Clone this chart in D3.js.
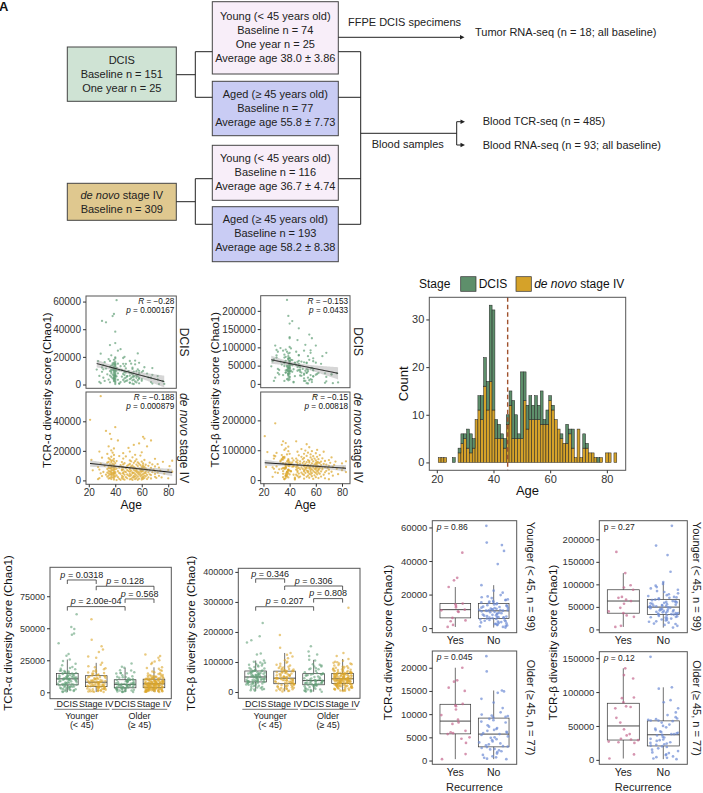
<!DOCTYPE html>
<html><head><meta charset="utf-8">
<script src="https://cdn.jsdelivr.net/npm/d3@7/dist/d3.min.js"></script>
<style>html,body{margin:0;padding:0;background:#fff;}svg{display:block}</style>
</head><body>
<svg id="fig" width="703" height="793" xmlns="http://www.w3.org/2000/svg"></svg>
<script>
// ======================= DATA =======================
// Flowchart text
const dcisBoxLines = ["DCIS", "Baseline n = 151", "One year n = 25"];
const denovoBoxLines = ["*de novo* stage IV", "Baseline n = 309"];
const youngDcisLines = ["Young (< 45 years old)", "Baseline n = 74", "One year n = 25", "Average age 38.0 ± 3.86"];
const agedDcisLines = ["Aged (≥ 45 years old)", "Baseline n = 77", "Average age 55.8 ± 7.73"];
const youngIVLines = ["Young (< 45 years old)", "Baseline n = 116", "Average age 36.7 ± 4.74"];
const agedIVLines = ["Aged (≥ 45 years old)", "Baseline n = 193", "Average age 58.2 ± 8.38"];
const ffpeLabel = "FFPE DCIS specimens";
const tumorLabel = "Tumor RNA-seq (n = 18; all baseline)";
const bloodLabel = "Blood samples";
const bloodTcrLabel = "Blood TCR-seq (n = 485)";
const bloodRnaLabel = "Blood RNA-seq (n = 93; all baseline)";

// Per-sample values: [age, TCR-alpha Chao1 (thousands), TCR-beta Chao1 (thousands)]
const dcisYoungYes = [
[33,45.0,98],[40,30.0,125],[36,28.5,72],[42,24.5,172],[31,11.0,88],[40,14.6,63],[38,14.2,36],[44,13.2,57],[30,12.3,93],
[39,10.6,40],[41,10.0,66],[37,9.6,31],[40,6.1,48],[39,4.6,28],[39,4.1,70],[28,1.9,8],[43,0.7,5.5]];
const dcisYoungNo = [
[41,61.0,97],[39,51.0,186],[38,49.5,230],[30,46.0,72],[40,38.2,165],[44,25.6,58],[29,22.3,105],[37,21.1,63],[40,19.7,128],
[35,18.4,91],[39,17.9,44],[36,17.1,80],[40,16.6,55],[32,16.2,38],[39,15.8,69],[40,15.5,101],[38,15.3,47],[27,16.9,62],
[40,18.9,85],[42,15.1,33],[39,14.8,76],[40,14.3,52],[31,14.1,41],[37,13.7,94],[40,13.5,60],[39,13.1,29],[36,12.8,57],
[40,12.6,70],[38,12.2,50],[41,12.1,36],[39,11.9,83],[40,11.6,45],[33,11.5,61],[39,11.2,22],[40,11.0,53],[37,10.9,74],
[26,10.8,48],[40,10.6,35],[39,10.5,66],[43,10.4,40],[38,10.7,88],[40,10.2,51],[39,10.0,27],[36,9.7,59],[40,9.5,42],
[30,9.2,78],[39,8.9,34],[40,8.7,56],[37,8.4,31],[42,8.1,65],[39,7.9,46],[40,7.6,20],[34,7.4,53],[38,7.1,39],[40,6.9,71],
[39,6.7,25],[36,6.5,49],[40,6.4,33],[28,6.2,67],[39,6.1,43],[41,5.9,54],[40,5.7,18],[37,5.5,37],[39,5.2,50],[31,4.9,30],
[40,4.7,62],[38,4.4,13],[39,4.1,36],[40,3.9,44],[35,3.6,24],[42,3.4,51],[39,3.1,15],[40,2.9,34],[32,2.6,26],[39,2.4,10],
[40,2.1,40],[44,1.8,21],[36,1.6,8],[40,1.3,28],[29,1.0,17],[43,0.7,4],[40,0.3,12]];
const dcisOldYes = [
[47,20.0,78],[55,17.3,135],[51,17.0,91],[58,15.7,62],[46,15.0,120],[53,12.2,30],[68,11.9,85],[48,11.7,45],[57,11.0,125],
[61,9.8,27],[47,8.8,79],[52,8.2,36],[64,7.9,55],[56,6.4,92],[72,6.1,26],[49,5.9,31],[54,5.7,76],[67,5.0,29],[58,4.7,38],
[60,3.8,25],[51,1.4,8],[73,0.3,2]];
const dcisOldNo = [
[57,22.5,44],[46,19.2,60],[52,15.1,107],[48,14.9,38],[55,14.6,66],[47,13.3,152],[62,12.5,30],[53,11.3,57],[45,10.4,88],
[58,9.9,21],[50,9.7,41],[56,9.6,13],[47,9.4,63],[54,9.3,34],[60,9.0,105],[48,8.7,50],[51,8.4,25],[58,8.2,70],[46,7.6,36],
[53,7.3,58],[68,7.0,19],[47,6.8,48],[56,6.6,85],[51,6.4,28],[54,6.2,39],[49,6.0,61],[57,5.9,11],[45,5.7,52],[53,5.5,31],
[65,5.2,76],[48,5.0,23],[56,4.9,42],[52,4.6,8],[47,4.4,55],[58,4.1,37],[51,3.9,59],[72,3.7,26],[54,3.5,17],[46,3.3,46],
[57,3.1,5],[53,3.0,40],[49,2.9,22],[60,2.7,58],[48,2.5,33],[76,2.4,29],[55,2.2,10],[47,2.0,38],[67,1.8,3],[56,1.5,24],
[51,1.2,15],[58,0.9,20],[68,0.7,7],[53,0.6,2],[77,0.4,4],[54,0.3,1]];
const ivYoung = [
[29,57.0,190],[21,41.0,147],[40,36.0,88],[33,33.5,62],[36,31.5,101],[37,28.0,45],[42,27.0,73],[35,23.0,130],[39,21.6,34],
[37,20.3,56],[28,19.5,82],[38,18.8,27],[34,17.9,118],[39,17.2,49],[43,16.5,66],[37,16.0,39],[30,15.4,91],[35,15.0,21],
[39,14.6,58],[36,14.2,74],[22,13.9,44],[38,13.6,12],[37,13.4,106],[41,13.1,53],[39,12.8,31],[35,12.5,69],[37,12.3,17],
[34,12.0,84],[40,11.7,47],[29,11.4,26],[38,11.1,63],[36,10.9,40],[39,10.6,97],[44,10.3,8],[37,10.1,51],[32,9.9,36],
[35,9.6,77],[39,9.4,23],[40,9.2,60],[27,9.0,43],[37,8.9,14],[38,8.7,86],[43,8.6,46],[35,8.4,30],[39,8.3,65],[36,8.1,3],
[41,8.0,55],[37,7.9,124],[34,7.7,38],[40,7.5,19],[28,7.3,72],[39,7.1,48],[38,6.9,28],[23,6.8,94],[37,6.6,42],[35,6.4,10],
[42,6.2,59],[39,6.0,35],[36,5.9,78],[31,5.7,24],[40,5.6,52],[37,5.4,7],[34,5.3,68],[39,5.1,33],[43,5.0,47],[38,4.9,16],
[29,4.8,80],[35,4.7,41],[37,4.6,22],[40,4.6,54],[44,4.5,5],[39,4.3,112],[36,4.1,37],[33,3.9,65],[38,3.8,20],[37,3.6,50],
[41,3.4,29],[35,3.2,75],[39,3.0,9],[30,2.9,46],[40,2.7,32],[34,2.5,71],[37,2.3,13],[42,2.2,45],[38,2.0,25],[39,1.8,70],
[36,1.6,4],[28,1.5,38],[35,1.3,57],[43,1.1,18],[37,0.9,43],[27,0.8,11],[39,0.6,66],[44,0.4,2],[41,0.2,30]];
const ivOld = [
[45,12.4,130],[45,6.8,44],[45,3.1,61],[45,9.2,18],[45,1.7,35],[45,7.5,72],
[46,14.8,52],[46,5.2,27],[46,8.9,95],[46,2.4,39],[46,10.9,14],[46,4.6,58],[46,0.9,66],[46,7.3,31],[46,18.4,47],
[47,6.1,83],[47,3.8,22],[47,11.6,41],[47,0.5,9],[48,8.3,63],[48,2.2,36],[48,16.2,55],[48,5.6,12],
[49,4.0,78],[49,9.8,43],[49,1.4,25],[49,7.0,104],[50,22.0,38],[50,6.3,20],[50,3.3,57],[50,10.5,70],
[51,13.5,46],[51,8.1,88],[51,2.8,17],[51,5.9,33],[51,11.1,62],[51,4.4,29],[51,0.7,50],[51,7.8,5],[51,19.5,74],
[52,3.6,42],[52,9.5,99],[52,1.1,24],[52,6.6,54],[52,12.9,37],
[53,5.4,120],[53,8.6,45],[53,2.0,11],[53,15.6,60],[53,4.8,32],[53,10.2,81],[53,0.3,40],
[54,7.2,26],[54,24.0,51],[54,3.0,67],[54,9.0,15],[54,5.1,48],[54,11.9,92],[54,1.9,30],
[55,6.5,59],[55,13.0,21],[55,2.6,44],[55,8.4,110],[55,4.2,8],[55,17.3,39],[55,0.8,64],
[56,10.7,34],[56,5.7,76],[56,3.4,19],[56,7.6,49],[56,1.5,28],[56,14.2,86],[56,6.9,41],
[57,9.7,13],[57,2.5,56],[57,4.7,69],[57,12.2,23],[57,6.0,36],[57,0.4,97],
[58,25.0,47],[58,8.0,4],[58,3.9,63],[58,11.3,31],[58,5.3,80],[58,1.2,43],
[59,7.4,281],[59,2.9,38],[59,10.4,53],[59,6.2,16],[59,4.5,72],[59,16.8,27],
[60,9.3,58],[60,1.8,35],[60,5.8,90],[60,12.7,45],[60,3.5,10],[60,7.9,66],[60,0.6,52],[60,19.0,24],[60,6.7,40],
[61,29.5,61],[61,4.3,30],[61,8.8,48],[61,2.3,78],[61,11.5,19],[61,6.4,42],[61,1.0,55],[61,10.1,101],
[62,28.3,37],[62,5.0,70],[62,7.7,25],[62,3.2,46],[62,13.8,7],[62,9.1,59],[62,1.6,33],
[63,6.1,84],[63,2.7,39],[63,10.6,21],[63,4.9,57],[63,8.2,44],[64,23.0,29],[64,3.7,62],[64,7.1,12],[64,0.9,50],
[65,5.5,36],[65,9.9,73],[65,2.1,41],[66,12.0,54],[66,4.1,18],[66,6.8,95],
[67,27.0,43],[67,1.3,26],[67,8.5,64],[67,3.6,6],[68,5.6,52],[68,10.8,31],[69,7.3,40],
[70,14.6,22],[70,2.4,67],[70,6.3,48],[70,9.4,3],[70,4.4,35],[71,1.7,58],[72,11.0,28],[72,5.2,76],
[73,3.1,44],[73,8.7,15],[74,6.6,51],[75,2.0,62],[76,12.6,38],[77,4.6,20],[80,7.0,33],[80,1.4,56],[81,9.6,42],
[83,5.9,63],[83,13.3,27]];

// Correlation annotations [R, p]
const statAlphaDcis = ["−0.28", "0.000167"];
const statAlphaIV = ["−0.188", "0.000879"];
const statBetaDcis = ["−0.153", "0.0433"];
const statBetaIV = ["−0.15", "0.00818"];

// Histogram of age at baseline
const histAges = [21,22,23,24,25,26,27,28,29,30,31,32,33,34,35,36,37,38,39,40,41,42,43,44,45,46,47,48,49,50,51,52,53,54,55,56,57,58,59,60,61,62,63,64,65,66,67,68,69,70,71,72,73,74,75,76,77,78,79,80,81,82,83];
const histIV   = [1,1,1,0,0,0,0,2,4,5,3,2,3,9,11,9,16,11,17,11,5,5,5,3,8,12,5,5,5,5,13,7,9,9,9,9,8,8,8,13,11,9,7,5,4,4,6,3,1,7,1,3,3,2,2,1,0,1,0,2,2,0,2];
const histDcis = [0,0,0,0,0,1,0,1,2,1,4,4,2,0,3,5,6,6,16,21,4,3,1,2,2,3,8,5,1,14,6,5,5,3,5,3,7,1,3,1,1,0,0,1,0,4,1,4,0,0,0,3,1,0,0,0,1,0,0,0,0,0,0];
const cutAge = 45;
const stageNames = ["DCIS", "*de novo* stage IV"];

// Box-plot comparisons [group i, group j, p label, bracket height]
const alphaBrackets = [[1,2,"0.0318",87700],[2,4,"0.128",82800],[3,4,"0.568",72900],[1,3,"2.00e-04",66900]];
const betaBrackets  = [[1,2,"0.346",377000],[2,4,"0.306",353000],[3,4,"0.808",311000],[1,3,"0.207",284000]];
const alphaBoxLimits = [-5000, 97600];
const betaBoxLimits  = [-21000, 412000];
const boxCats = ["DCIS", "Stage IV", "DCIS", "Stage IV"];
const ageGroupLabels = [["Younger", "(< 45)"], ["Older", "(≥ 45)"]];

// Recurrence panels
const recCats = ["Yes", "No"];
const recStrips = ["Younger (< 45, n = 99)", "Older (≥ 45, n = 77)"];
const recAlphaP = ["*p* = 0.86", "*p* = 0.045"];
const recBetaP  = ["p = 0.27", "*p* = 0.12"];

// Axis ticks
const ticksAlphaDcis = [0,20000,40000,60000];
const ticksAlphaIV = [0,20000,40000];
const ticksBetaDcis = [0,50000,100000,150000,200000];
const ticksBetaIV = [0,100000,200000];
const ticksAge = [20,40,60,80];
const ticksCount = [0,10,20,30];
const ticksAlphaBox = [0,25000,50000,75000];
const ticksBetaBox = [0,100000,200000,300000,400000];
const ticksRecAlphaY = [0,20000,40000,60000];
const ticksRecAlphaO = [0,5000,10000,15000,20000];
const ticksRecBetaY = [0,50000,100000,150000,200000];
const ticksRecBetaO = [0,50000,100000,150000];

// ======================= DRAWING =======================
const THOUSAND = 1000;
const svg = d3.select("#fig");
const FONT = "'Liberation Sans', Arial, Helvetica, sans-serif";
svg.attr("font-family", FONT);
const INK = "#111", AX = "#333", FRAME = "#555";
const C_DCIS = "#63a078", C_IV = "#dca72b", H_DCIS = "#5e8f6b", H_IV = "#d5a229";
const C_YES = "#c4688f", C_NO = "#6d8cd4";

function rich(t, s) {
  s.split("*").forEach((p, i) => { if (!p) return; const ts = t.append("tspan").text(p); if (i % 2 === 1) ts.attr("font-style", "italic"); });
}
function txt(g, x, y, s, o = {}) {
  const t = g.append("text").attr("x", x).attr("y", y).attr("font-size", o.fs || 11)
    .attr("fill", o.fill || INK).attr("text-anchor", o.anchor || "start");
  if (o.dy) t.attr("dy", o.dy);
  if (o.rotate) t.attr("transform", `rotate(${o.rotate},${x},${y})`);
  if (o.weight) t.attr("font-weight", o.weight);
  rich(t, s);
  return t;
}
const pad = (ext, f = 0.05) => { const d = (ext[1] - ext[0]) * f; return [ext[0] - d, ext[1] + d]; };
function yAxis(g, scale, x, ticks, fs) {
  const a = g.append("g").attr("transform", `translate(${x},0)`)
    .call(d3.axisLeft(scale).tickValues(ticks).tickSize(3).tickPadding(2).tickFormat(d3.format("d")));
  a.attr("font-family", FONT).attr("font-size", fs);
  a.select(".domain").remove();
  a.selectAll("line").attr("stroke", AX);
  a.selectAll("text").attr("fill", AX);
}
function xAxis(g, scale, y, ticks, fs, fmt) {
  const a = g.append("g").attr("transform", `translate(0,${y})`)
    .call(d3.axisBottom(scale).tickValues(ticks).tickSize(3).tickPadding(2).tickFormat(fmt || d3.format("d")));
  a.attr("font-family", FONT).attr("font-size", fs);
  a.select(".domain").remove();
  a.selectAll("line").attr("stroke", AX);
  a.selectAll("text").attr("fill", AX);
}
function frame(g, x0, y0, x1, y1) {
  g.append("rect").attr("x", x0).attr("y", y0).attr("width", x1 - x0).attr("height", y1 - y0)
    .attr("fill", "none").attr("stroke", FRAME).attr("stroke-width", 1);
}

// ---------- Panel A: flowchart ----------
const gA = svg.append("g");
txt(gA, -1, 11, "A", { fs: 13, weight: "bold" });
function flowBox(x, y, w, h, fill, lines, cy0, step) {
  gA.append("rect").attr("x", x).attr("y", y).attr("width", w).attr("height", h)
    .attr("fill", fill).attr("stroke", "#444").attr("stroke-width", 1);
  lines.forEach((l, i) => txt(gA, x + w / 2, cy0 + i * step, l, { anchor: "middle", dy: "0.35em", fs: 11, fill: "#222" }));
}
flowBox(67.3, 47, 109, 54.3, "#cfe3d4", dcisBoxLines, 60.5, 13.8);
flowBox(67.3, 183.3, 109, 37, "#dfc88f", denovoBoxLines, 195.5, 13.8);
flowBox(212.3, 1.7, 126, 72.3, "#f8eef9", youngDcisLines, 16, 14);
flowBox(212.3, 81.3, 126, 54.4, "#c9ccf4", agedDcisLines, 94.3, 13.7);
flowBox(212.3, 145.3, 126, 55, "#f8eef9", youngIVLines, 158.3, 13.9);
flowBox(212.3, 206.7, 126, 55, "#c9ccf4", agedIVLines, 219.5, 13.9);
const flowPaths = [
  "M176.3,74.7H195.3", "M212.3,51.7H195.3V97.3H212.3",
  "M176.3,201.7H195.3", "M212.3,178.7H195.3V224.3H212.3",
  "M338.3,51.7H360.7", "M338.3,97.3H360.7", "M338.3,178.7H360.7", "M338.3,224.3H360.7", "M360.7,51.7V224.3",
  "M338.3,37.3H461", "M360.7,133.3H456.7", "M456.7,121.7V145", "M456.7,121.7H462", "M456.7,145H462"];
flowPaths.forEach(d => gA.append("path").attr("d", d).attr("fill", "none").attr("stroke", "#222").attr("stroke-width", 1));
[[464.5, 37.3], [465, 121.7], [465, 145]].forEach(([x, y]) =>
  gA.append("path").attr("d", `M${x},${y}L${x - 4.5},${y - 2.2}L${x - 4.5},${y + 2.2}Z`).attr("fill", "#222"));
txt(gA, 348, 25.5, ffpeLabel, { fs: 11, fill: "#222" });
txt(gA, 475, 32.3, tumorLabel, { fs: 11, dy: "0.35em", fill: "#222" });
txt(gA, 371.7, 144, bloodLabel, { fs: 11, dy: "0.35em", fill: "#222" });
txt(gA, 482.7, 120.7, bloodTcrLabel, { fs: 11, dy: "0.35em", fill: "#222" });
txt(gA, 482.7, 145, bloodRnaLabel, { fs: 11, dy: "0.35em", fill: "#222" });

// ---------- Panel B: scatter plots ----------
function linfit(pts) {
  const n = pts.length, mx = d3.mean(pts, d => d[0]), my = d3.mean(pts, d => d[1]);
  let sxx = 0, sxy = 0;
  pts.forEach(([x, y]) => { sxx += (x - mx) ** 2; sxy += (x - mx) * (y - my); });
  const b = sxy / sxx, a = my - b * mx;
  const s = Math.sqrt(d3.sum(pts, ([x, y]) => (y - a - b * x) ** 2) / (n - 2));
  return { a, b, s, n, mx, sxx };
}
function scatterPanel(cfg) {
  const g = svg.append("g");
  const ages = cfg.facets.flatMap(f => f.data.map(d => d[0]));
  const x = d3.scaleLinear().domain(pad(d3.extent(ages))).range([cfg.x0, cfg.x1]);
  cfg.facets.forEach((f, fi) => {
    const pts = f.data.map(d => [d[0], d[cfg.vi] * THOUSAND]);
    const y = d3.scaleLinear().domain(pad(d3.extent(pts, d => d[1]))).range([f.y1, f.y0]);
    g.append("g").selectAll("circle").data(pts).join("circle")
      .attr("cx", d => x(d[0])).attr("cy", d => y(d[1])).attr("r", 1.15)
      .attr("fill", f.color).attr("fill-opacity", 0.7);
    const fit = linfit(pts);
    const ex = d3.extent(pts, d => d[0]);
    const xs = d3.range(81).map(i => ex[0] + (ex[1] - ex[0]) * i / 80);
    const band = xs.map(xv => { const yh = fit.a + fit.b * xv; const se = fit.s * Math.sqrt(1 / fit.n + (xv - fit.mx) ** 2 / fit.sxx); return { xv, lo: yh - 1.97 * se, hi: yh + 1.97 * se, yh }; });
    g.append("path").datum(band).attr("d", d3.area().x(d => x(d.xv)).y0(d => y(d.lo)).y1(d => y(d.hi)))
      .attr("fill", "#999").attr("fill-opacity", 0.4);
    g.append("path").datum(band).attr("d", d3.line().x(d => x(d.xv)).y(d => y(d.yh)))
      .attr("fill", "none").attr("stroke", "#111").attr("stroke-width", 1);
    frame(g, cfg.x0, f.y0, cfg.x1, f.y1);
    yAxis(g, y, cfg.x0, f.ticks, 10);
    txt(g, cfg.x1 - 2, f.y0 + 8, "*R* = " + f.stat[0], { fs: 8.2, anchor: "end" });
    txt(g, cfg.x1 - 2, f.y0 + 16.8, "*p* = " + f.stat[1], { fs: 8.2, anchor: "end" });
    const sy = (f.y0 + f.y1) / 2;
    txt(g, cfg.x1 + 4, sy, f.strip, { fs: 12, anchor: "middle", rotate: 90, fill: "#222" });
    if (fi === cfg.facets.length - 1) xAxis(g, x, f.y1, ticksAge, 10);
  });
  const last = cfg.facets[cfg.facets.length - 1];
  txt(g, (cfg.x0 + cfg.x1) / 2, 509, "Age", { fs: 12, anchor: "middle" });
  txt(g, cfg.titleX, (cfg.facets[0].y0 + last.y1) / 2, cfg.title, { fs: 11.5, anchor: "middle", rotate: -90, dy: "0.35em" });
}
const dcisAll = [...dcisYoungYes, ...dcisYoungNo, ...dcisOldYes, ...dcisOldNo];
const ivAll = [...ivYoung, ...ivOld];
scatterPanel({ x0: 86, x1: 176.3, vi: 1, title: "TCR-α diversity score (Chao1)", titleX: 46.7,
  facets: [
    { y0: 296, y1: 388.3, data: dcisAll, color: C_DCIS, stat: statAlphaDcis, ticks: ticksAlphaDcis, strip: "DCIS" },
    { y0: 392, y1: 484.3, data: ivAll, color: C_IV, stat: statAlphaIV, ticks: ticksAlphaIV, strip: "*de novo* stage IV" }] });
scatterPanel({ x0: 260.7, x1: 350, vi: 2, title: "TCR-β diversity score (Chao1)", titleX: 215,
  facets: [
    { y0: 295.7, y1: 387.7, data: dcisAll, color: C_DCIS, stat: statBetaDcis, ticks: ticksBetaDcis, strip: "DCIS" },
    { y0: 392, y1: 483.7, data: ivAll, color: C_IV, stat: statBetaIV, ticks: ticksBetaIV, strip: "*de novo* stage IV" }] });

// ---------- Panel C: histogram ----------
(function () {
  const g = svg.append("g");
  const x0 = 429.3, x1 = 625.7, y0 = 297.3, y1 = 470.3;
  const totals = histAges.map((a, i) => histIV[i] + histDcis[i]);
  const x = d3.scaleLinear().domain(pad([histAges[0] - 0.5, histAges[histAges.length - 1] + 0.5])).range([x0, x1]);
  const y = d3.scaleLinear().domain(pad([0, d3.max(totals)])).range([y1, y0]);
  const rows = histAges.map((a, i) => ({ a, iv: histIV[i], dc: histDcis[i] }));
  g.append("g").selectAll("rect").data(rows.filter(r => r.iv > 0)).join("rect")
    .attr("x", r => x(r.a - 0.5)).attr("width", r => x(r.a + 0.5) - x(r.a - 0.5))
    .attr("y", r => y(r.iv)).attr("height", r => y(0) - y(r.iv))
    .attr("fill", H_IV).attr("stroke", "#222").attr("stroke-width", 0.5);
  g.append("g").selectAll("rect").data(rows.filter(r => r.dc > 0)).join("rect")
    .attr("x", r => x(r.a - 0.5)).attr("width", r => x(r.a + 0.5) - x(r.a - 0.5))
    .attr("y", r => y(r.iv + r.dc)).attr("height", r => y(r.iv) - y(r.iv + r.dc))
    .attr("fill", H_DCIS).attr("stroke", "#222").attr("stroke-width", 0.5);
  g.append("line").attr("x1", x(cutAge)).attr("x2", x(cutAge)).attr("y1", y0).attr("y2", y1)
    .attr("stroke", "#a0522d").attr("stroke-width", 1.4).attr("stroke-dasharray", "4.5,3");
  frame(g, x0, y0, x1, y1);
  yAxis(g, y, x0, ticksCount, 11);
  xAxis(g, x, y1, ticksAge, 11);
  txt(g, 403.3, (y0 + y1) / 2, "Count", { fs: 13, anchor: "middle", rotate: -90, dy: "0.35em" });
  txt(g, (x0 + x1) / 2, 494.5, "Age", { fs: 13, anchor: "middle" });
  // legend
  txt(g, 419, 284, "Stage", { fs: 12, dy: "0.35em" });
  const keys = [[460.7, H_DCIS, 478.7], [516, H_IV, 534.2]];
  keys.forEach(([kx, col, tx], i) => {
    g.append("rect").attr("x", kx).attr("y", 276.7).attr("width", 15.3).attr("height", 14.6)
      .attr("fill", col).attr("stroke", "#333").attr("stroke-width", 0.7);
    txt(g, tx, 284, stageNames[i], { fs: 12, dy: "0.35em" });
  });
})();

// ---------- box helpers ----------
function boxStats(vals) {
  const s = vals.slice().sort(d3.ascending);
  const q1 = d3.quantile(s, 0.25), med = d3.quantile(s, 0.5), q3 = d3.quantile(s, 0.75), iqr = q3 - q1;
  return { q1, med, q3, lo: d3.min(s.filter(v => v >= q1 - 1.5 * iqr)), hi: d3.max(s.filter(v => v <= q3 + 1.5 * iqr)) };
}
// deterministic horizontal jitter offset in [-0.5, 0.5) from the point index (layout only)
const jit = i => { const s = Math.sin((i + 1) * 12.9898 + 78.233) * 43758.5453; return s - Math.floor(s) - 0.5; };
function drawBoxes(g, x, y, groups, boxW, jitW, r, op) {
  const u = x(2) - x(1);
  groups.forEach((grp, gi) => {
    const cx = x(gi + 1), st = boxStats(grp.values);
    g.append("line").attr("x1", cx).attr("x2", cx).attr("y1", y(st.q3)).attr("y2", y(st.hi)).attr("stroke", "#333").attr("stroke-width", 0.7);
    g.append("line").attr("x1", cx).attr("x2", cx).attr("y1", y(st.q1)).attr("y2", y(st.lo)).attr("stroke", "#333").attr("stroke-width", 0.7);
    g.append("rect").attr("x", cx - boxW * u / 2).attr("width", boxW * u).attr("y", y(st.q3)).attr("height", y(st.q1) - y(st.q3))
      .attr("fill", "none").attr("stroke", "#333").attr("stroke-width", 0.7);
    g.append("line").attr("x1", cx - boxW * u / 2).attr("x2", cx + boxW * u / 2).attr("y1", y(st.med)).attr("y2", y(st.med)).attr("stroke", "#333").attr("stroke-width", 0.9);
    g.append("g").selectAll("circle").data(grp.values).join("circle")
      .attr("cx", (v, i) => cx + jit(i + gi * 37) * 2 * jitW * u).attr("cy", v => y(v)).attr("r", r)
      .attr("fill", grp.color).attr("fill-opacity", op);
  });
}

// ---------- Panel D: box plots by age group ----------
function agePanel(cfg) {
  const g = svg.append("g");
  const { x0, x1, y0, y1 } = cfg;
  const x = d3.scaleLinear().domain([0.4, 4.6]).range([x0, x1]);
  const y = d3.scaleLinear().domain(cfg.limits).range([y1, y0]);
  const groups = [
    { values: [...dcisYoungYes, ...dcisYoungNo].map(d => d[cfg.vi] * THOUSAND), color: C_DCIS },
    { values: ivYoung.map(d => d[cfg.vi] * THOUSAND), color: C_IV },
    { values: [...dcisOldYes, ...dcisOldNo].map(d => d[cfg.vi] * THOUSAND), color: C_DCIS },
    { values: ivOld.map(d => d[cfg.vi] * THOUSAND), color: C_IV }];
  drawBoxes(g, x, y, groups, 0.75, 0.33, 1.25, 0.6);
  cfg.brackets.forEach(([i, j, lab, h]) => {
    const by = y(h);
    g.append("path").attr("d", `M${x(i)},${by + 4}V${by}H${x(j)}V${by + 4}`).attr("fill", "none").attr("stroke", "#333").attr("stroke-width", 0.8);
    txt(g, (x(i) + x(j)) / 2, by - 2.3, "*p* = " + lab, { fs: 9, anchor: "middle", fill: "#222" });
  });
  frame(g, x0, y0, x1, y1);
  yAxis(g, y, x0, cfg.ticks, 9);
  boxCats.forEach((c, i) => txt(g, x(i + 1), 707, c, { fs: 9, anchor: "middle", fill: "#222" }));
  const u = x(2) - x(1);
  ageGroupLabels.forEach((lab, k) => {
    const mid = (x(2 * k + 1) + x(2 * k + 2)) / 2;
    g.append("line").attr("x1", mid - 0.96 * u).attr("x2", mid + 0.96 * u).attr("y1", 709.3).attr("y2", 709.3).attr("stroke", "#555").attr("stroke-width", 0.8);
    txt(g, mid, 719, lab[0], { fs: 9, anchor: "middle", fill: "#222" });
    txt(g, mid, 727.5, lab[1], { fs: 9, anchor: "middle", fill: "#222" });
  });
  txt(g, cfg.titleX, (y0 + y1) / 2, cfg.title, { fs: 11.5, anchor: "middle", rotate: -90, dy: "0.35em" });
}
agePanel({ x0: 50, x1: 171.3, y0: 567.3, y1: 698.7, vi: 1, limits: alphaBoxLimits, ticks: ticksAlphaBox, brackets: alphaBrackets, title: "TCR-α diversity score (Chao1)", titleX: 8 });
agePanel({ x0: 238.3, x1: 360, y0: 568.3, y1: 698.3, vi: 2, limits: betaBoxLimits, ticks: ticksBetaBox, brackets: betaBrackets, title: "TCR-β diversity score (Chao1)", titleX: 191 });

// ---------- Panel E: recurrence ----------
function recPanel(cfg) {
  const g = svg.append("g");
  const x = d3.scaleLinear().domain([0.4, 2.6]).range([cfg.x0, cfg.x1]);
  const sets = [[dcisYoungYes, dcisYoungNo], [dcisOldYes, dcisOldNo]];
  cfg.facets.forEach((f, fi) => {
    const groups = sets[fi].map((arr, k) => ({ values: arr.map(d => d[cfg.vi] * THOUSAND), color: k === 0 ? C_YES : C_NO }));
    const all = groups.flatMap(gp => gp.values);
    const y = d3.scaleLinear().domain(pad(d3.extent(all))).range([f.y1, f.y0]);
    drawBoxes(g, x, y, groups, 0.8, 0.38, 1.35, 0.7);
    frame(g, cfg.x0, f.y0, cfg.x1, f.y1);
    yAxis(g, y, cfg.x0, f.ticks, 9.5);
    recCats.forEach((c, i) => txt(g, x(i + 1), f.y1 + 11.5, c, { fs: 10.5, anchor: "middle", fill: "#222" }));
    txt(g, cfg.x0 + 4.4, f.y0 + 9, cfg.pLabels[fi], { fs: 8.5, fill: "#222" });
    txt(g, cfg.x1 + cfg.stripDx, (f.y0 + f.y1) / 2, recStrips[fi], { fs: 11, anchor: "middle", rotate: 90, dy: "0.35em", fill: "#222" });
  });
  txt(g, (cfg.x0 + cfg.x1) / 2, 790.5, "Recurrence", { fs: 11, anchor: "middle", fill: "#222" });
  txt(g, cfg.titleX, (cfg.facets[0].y0 + cfg.facets[1].y1) / 2, cfg.title, { fs: 11.5, anchor: "middle", rotate: -90, dy: "0.35em" });
}
recPanel({ x0: 432.3, x1: 516.7, vi: 1, pLabels: recAlphaP, stripDx: 14, titleX: 388.3, title: "TCR-α diversity score (Chao1)",
  facets: [{ y0: 520.7, y1: 632.7, ticks: ticksRecAlphaY }, { y0: 651, y1: 764.3, ticks: ticksRecAlphaO }] });
recPanel({ x0: 599.3, x1: 687.3, vi: 2, pLabels: recBetaP, stripDx: 9.5, titleX: 553.3, title: "TCR-β diversity score (Chao1)",
  facets: [{ y0: 520.7, y1: 632.7, ticks: ticksRecBetaY }, { y0: 651.7, y1: 764.3, ticks: ticksRecBetaO }] });
</script>
</body></html>
